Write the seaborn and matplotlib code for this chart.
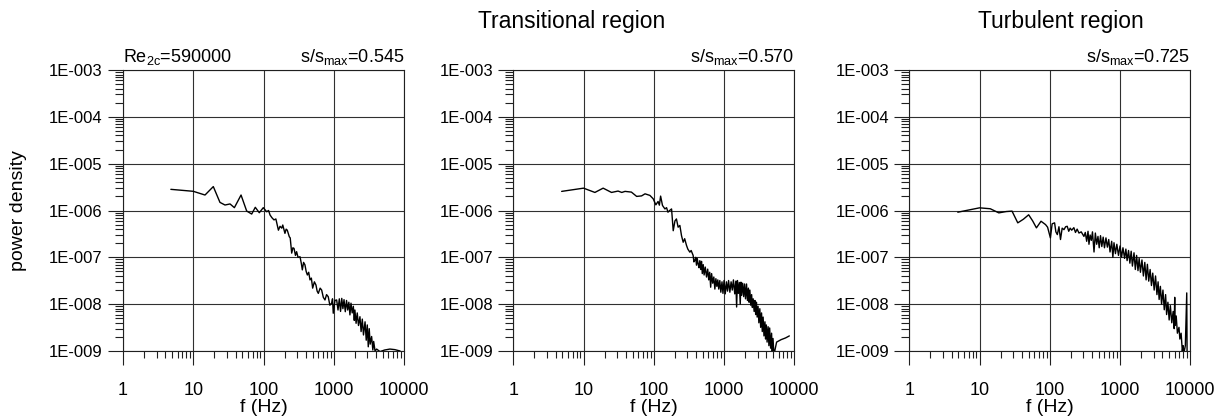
import numpy as np
import pandas as pd
import matplotlib
matplotlib.use("Agg")
import matplotlib.pyplot as plt
import matplotlib.ticker as mticker
import seaborn as sns

# ---------------- data ----------------
f1 = [4.8, 10, 14.7, 19.3, 24, 28.3, 33.4, 38.5, 47.9, 57.6, 67.9, 76.4, 87.1, 99.3, 111, 118, 124, 132,
      141, 150, 163, 172, 182, 188, 202, 210, 218, 233, 240, 252, 262, 272, 285, 296, 310, 331, 345, 357,
      372, 389, 405, 421, 440, 459, 480, 501, 530, 558, 580, 603, 640, 673, 710, 750, 790, 835, 880, 933,
      960, 984, 1040, 1100, 1150, 1200, 1250, 1300, 1350, 1400, 1460, 1520, 1580, 1640, 1700, 1760, 1830,
      1900, 1960, 2000, 2080, 2160, 2250, 2360, 2450, 2550, 2650, 2790, 2900, 3000, 3100, 3200, 3300,
      3460, 3600, 3700, 3870, 4080, 4550, 5300, 6300, 7400, 8800]
p1 = [2.83e-6, 2.57e-6, 2.14e-6, 3.24e-6, 1.49e-6, 1.31e-6, 1.38e-6, 1.15e-6, 2.14e-6, 9.75e-7, 8.4e-7,
      1.17e-6, 8.97e-7, 1.15e-6, 9.4e-7, 1.0e-6, 8.0e-7, 7.0e-7, 6.3e-7, 6.6e-7, 3.8e-7, 4.6e-7, 4.2e-7,
      4.9e-7, 3.25e-7, 4.0e-7, 3.8e-7, 2.75e-7, 2.6e-7, 1.23e-7, 1.6e-7, 1.55e-7, 1.1e-7, 1.32e-7, 1.0e-7,
      1.03e-7, 7.5e-8, 5.4e-8, 7.8e-8, 6.9e-8, 5.0e-8, 4.2e-8, 4.8e-8, 3.3e-8, 3.6e-8, 2.2e-8, 3.0e-8,
      2.57e-8, 1.9e-8, 1.7e-8, 2.2e-8, 2.0e-8, 1.4e-8, 1.23e-8, 1.6e-8, 1.44e-8, 9.5e-9, 1.05e-8, 1.3e-8,
      6.4e-9, 1.2e-8, 1.23e-8, 7.5e-9, 1.3e-8, 7.0e-9, 1.33e-8, 8.0e-9, 1.25e-8, 6.9e-9, 1.2e-8, 7.5e-9,
      1.1e-8, 5.9e-9, 1.05e-8, 6.5e-9, 9.0e-9, 4.5e-9, 7.5e-9, 3.9e-9, 6.5e-9, 3.5e-9, 5.4e-9, 2.6e-9,
      4.8e-9, 2.2e-9, 4.2e-9, 1.7e-9, 3.6e-9, 1.23e-9, 3.0e-9, 1.4e-9, 2.04e-9, 1.05e-9, 1.6e-9, 1.0e-9,
      1.1e-9, 0.97e-9, 1.05e-9, 1.1e-9, 1.07e-9, 1.0e-9]

f2 = [4.88, 10, 14.5, 19, 25, 31, 35, 39, 48, 57, 67, 75, 88, 98, 107, 115, 120, 125, 133, 144, 152, 159,
      168, 179, 189, 200, 210, 222, 235, 248, 262, 275, 292, 305, 326, 340, 363, 372, 384, 395, 405, 415,
      427, 440, 452, 465, 478, 490, 505, 520, 540, 563, 585, 605, 625, 645, 665, 690, 715, 740, 765, 790,
      815, 840, 870, 900, 935, 965, 1000, 1040, 1080, 1120, 1160, 1210, 1260, 1310, 1360, 1420, 1470,
      1510, 1550, 1600, 1650, 1700, 1740, 1780, 1840, 1900, 1960, 2020, 2090, 2150, 2220, 2270, 2330,
      2400, 2470, 2530, 2600, 2680, 2750, 2820, 2890, 2960, 3050, 3130, 3230, 3320, 3420, 3500, 3600,
      3700, 3820, 3900, 4000, 4100, 4240, 4350, 4460, 4600, 4750, 4850, 4980, 5100, 5270, 5600, 6500,
      7500, 8500]
p2 = [2.56e-6, 3.0e-6, 2.43e-6, 3.0e-6, 2.43e-6, 2.6e-6, 2.43e-6, 2.56e-6, 2.47e-6, 2.0e-6, 2.05e-6,
      2.27e-6, 2.1e-6, 1.78e-6, 1.32e-6, 1.56e-6, 1.3e-6, 2.03e-6, 1.28e-6, 1.08e-6, 1.15e-6, 9.2e-7,
      1.0e-6, 1.08e-6, 3.7e-7, 6.0e-7, 6.6e-7, 4.4e-7, 4.8e-7, 2.9e-7, 2.1e-7, 2.5e-7, 1.8e-7, 1.5e-7,
      1.29e-7, 1.4e-7, 1.1e-7, 8.0e-8, 8.6e-8, 1.0e-7, 6.8e-8, 9.5e-8, 7.3e-8, 6.0e-8, 8.5e-8, 5.5e-8,
      8.2e-8, 4.5e-8, 7.0e-8, 4.2e-8, 6.2e-8, 3.8e-8, 5.6e-8, 3.3e-8, 4.8e-8, 2.3e-8, 4.5e-8, 2.8e-8,
      3.8e-8, 2.1e-8, 3.5e-8, 2.4e-8, 3.3e-8, 2.1e-8, 3.2e-8, 1.8e-8, 3.0e-8, 1.7e-8, 3.2e-8, 1.66e-8,
      3.0e-8, 1.9e-8, 3.2e-8, 1.8e-8, 3.0e-8, 2.0e-8, 3.3e-8, 1.66e-8, 3.1e-8, 8.7e-9, 3.2e-8, 1.7e-8,
      2.9e-8, 1.0e-8, 2.95e-8, 1.55e-8, 2.8e-8, 1.45e-8, 2.7e-8, 1.3e-8, 2.7e-8, 1.2e-8, 2.2e-8, 1.1e-8,
      2.0e-8, 9.5e-9, 1.6e-8, 8.5e-9, 1.3e-8, 7.0e-9, 1.2e-8, 6.0e-9, 1.1e-8, 5.3e-9, 9.0e-9, 4.0e-9,
      8.0e-9, 3.2e-9, 6.5e-9, 2.6e-9, 5.3e-9, 2.1e-9, 4.2e-9, 1.8e-9, 3.6e-9, 1.55e-9, 3.3e-9, 1.3e-9,
      3.1e-9, 1.15e-9, 2.4e-9, 1.0e-9, 1.85e-9, 0.95e-9, 1.0e-9, 1.55e-9, 1.75e-9, 1.9e-9, 2.1e-9]

f3 = [4.9, 10, 14.2, 18.8, 24, 29, 35, 42, 50, 57, 64.5, 75, 87, 93, 102, 108, 117, 122, 128, 135, 142,
      150, 159, 168, 177, 186, 195, 205, 220, 232, 245, 260, 280, 306, 320, 335, 350, 361, 375, 390, 405,
      426, 445, 465, 485, 505, 527, 550, 575, 600, 630, 660, 690, 720, 760, 790, 820, 860, 900, 950, 1000,
      1050, 1100, 1160, 1210, 1260, 1320, 1380, 1440, 1500, 1580, 1650, 1720, 1800, 1870, 1950, 2050,
      2150, 2250, 2350, 2450, 2560, 2680, 2800, 2920, 3060, 3200, 3350, 3480, 3600, 3750, 3900, 4080,
      4260, 4450, 4600, 4800, 5000, 5200, 5450, 5700, 5900, 6000, 6050, 6300, 6550, 6900, 7100, 7400,
      7700, 7900, 8100, 8500, 8900, 9000]
p3 = [9.2e-7, 1.14e-6, 1.09e-6, 8.9e-7, 9.5e-7, 9.7e-7, 5.45e-7, 6.5e-7, 8.1e-7, 6.0e-7, 4.26e-7, 5.9e-7,
      5.0e-7, 4.4e-7, 2.6e-7, 5.2e-7, 5.45e-7, 3.5e-7, 3.06e-7, 4.5e-7, 2.4e-7, 4.2e-7, 3.9e-7, 4.5e-7,
      4.6e-7, 3.6e-7, 4.2e-7, 3.8e-7, 4.3e-7, 3.4e-7, 4.0e-7, 3.3e-7, 3.5e-7, 2.8e-7, 3.4e-7, 2.2e-7,
      3.6e-7, 1.9e-7, 3.0e-7, 2.3e-7, 3.5e-7, 1.3e-7, 3.3e-7, 1.9e-7, 2.8e-7, 1.6e-7, 2.9e-7, 1.7e-7,
      2.7e-7, 1.6e-7, 2.6e-7, 1.65e-7, 2.4e-7, 1.3e-7, 2.2e-7, 1.0e-7, 2.05e-7, 1.2e-7, 1.9e-7, 1.1e-7,
      1.75e-7, 1.0e-7, 1.6e-7, 9.5e-8, 1.5e-7, 8.5e-8, 1.4e-7, 7.5e-8, 1.35e-7, 6.5e-8, 1.25e-7, 5.5e-8,
      1.1e-7, 5.2e-8, 9.5e-8, 4.8e-8, 8.8e-8, 4.0e-8, 7.8e-8, 3.3e-8, 7.1e-8, 3.1e-8, 5.5e-8, 2.5e-8,
      4.6e-8, 2.0e-8, 4.0e-8, 1.6e-8, 3.0e-8, 1.26e-8, 2.4e-8, 1.0e-8, 2.0e-8, 7.6e-9, 1.6e-8, 6.0e-9,
      1.1e-8, 4.6e-9, 9.3e-9, 4.0e-9, 7.0e-9, 3.0e-9, 1.4e-8, 3.5e-9, 5.6e-9, 2.4e-9, 3.2e-9, 1.8e-9,
      2.4e-9, 1.0e-9, 1.3e-9, 0.9e-9, 1.3e-9, 1.74e-8, 0.9e-9]

positions = ["s/s$_{\\mathrm{max}}$=0.545", "s/s$_{\\mathrm{max}}$=0.570", "s/s$_{\\mathrm{max}}$=0.725"]
reynolds = "Re$_{\\mathrm{2c}}$=590000"
region_titles = ["Transitional region", "Turbulent region"]
x_ticks = [1, 10, 100, 1000, 10000]
y_ticks = [1e-9, 1e-8, 1e-7, 1e-6, 1e-5, 1e-4, 1e-3]

# ---------------- style ----------------
sns.set_theme(style="white")
plt.rcParams["font.family"] = ["Liberation Sans", "DejaVu Sans"]
plt.rcParams["mathtext.fontset"] = "custom"
plt.rcParams["mathtext.rm"] = "Liberation Sans"
plt.rcParams["mathtext.it"] = "Liberation Sans"
plt.rcParams["mathtext.default"] = "regular"
plt.rcParams["text.color"] = "black"
plt.rcParams["axes.labelcolor"] = "black"
plt.rcParams["xtick.color"] = "black"
plt.rcParams["ytick.color"] = "black"

W, H = 1224, 419
fig = plt.figure(figsize=(W / 100, H / 100), dpi=100)

lefts = [123, 513.3, 909.3]
ax_w = 281
top_px, bot_px = 70, 351

datasets = [(f1, p1), (f2, p2), (f3, p3)]

def yfmt(v, pos):
    e = int(round(np.log10(v)))
    return "1E-%03d" % abs(e)

for i, (fx, py) in enumerate(datasets):
    ax = fig.add_axes([lefts[i] / W, 1 - bot_px / H, ax_w / W, (bot_px - top_px) / H])
    df = pd.DataFrame({"f": fx, "p": py})
    sns.lineplot(data=df, x="f", y="p", ax=ax, color="black", linewidth=1.0,
                 estimator=None, sort=False)
    ax.set_xscale("log")
    ax.set_yscale("log")
    ax.set_xlim(1, 10000)
    ax.set_ylim(1e-9, 1e-3)
    ax.xaxis.set_major_locator(mticker.FixedLocator(x_ticks))
    ax.xaxis.set_major_formatter(mticker.FixedFormatter([str(t) for t in x_ticks]))
    ax.yaxis.set_major_locator(mticker.FixedLocator(y_ticks))
    ax.yaxis.set_major_formatter(mticker.FuncFormatter(yfmt))
    ax.xaxis.set_minor_locator(mticker.LogLocator(base=10, subs=np.arange(2, 10), numticks=20))
    ax.yaxis.set_minor_locator(mticker.LogLocator(base=10, subs=np.arange(2, 10), numticks=20))
    ax.xaxis.set_minor_formatter(mticker.NullFormatter())
    ax.yaxis.set_minor_formatter(mticker.NullFormatter())
    ax.grid(True, which="major", color="#303030", linewidth=0.8)
    ax.grid(False, which="minor")
    for s in ax.spines.values():
        s.set_color("#202020")
        s.set_linewidth(0.8)
    ax.tick_params(axis="x", which="major", direction="out", length=10, width=0.8,
                   color="#202020", labelsize=13, pad=12, bottom=True)
    ax.tick_params(axis="x", which="minor", direction="out", length=5, width=0.8,
                   color="#202020", bottom=True)
    ax.tick_params(axis="y", which="major", direction="out", length=10.5, width=0.8,
                   color="#202020", labelsize=12, pad=4, left=True)
    ax.tick_params(axis="y", which="minor", direction="out", length=5.5, width=0.8,
                   color="#202020", left=True)
    ax.set_xlabel("f (Hz)", fontsize=14, labelpad=0)
    ax.set_ylabel("")
    ax.text(1.0, 1.01, positions[i], transform=ax.transAxes, ha="right", va="bottom",
            fontsize=13)
    if i == 0:
        ax.text(0.0, 1.01, reynolds, transform=ax.transAxes, ha="left", va="bottom",
                fontsize=13)

fig.text(18.5 / W, 1 - 210.5 / H, "power density", rotation=90, ha="center", va="center",
         fontsize=14)
fig.text(572 / W, 1 - 28.3 / H, region_titles[0], ha="center", va="baseline", fontsize=16.5)
fig.text(1061 / W, 1 - 28.3 / H, region_titles[1], ha="center", va="baseline", fontsize=16.5)

fig.savefig("out.png", dpi=100)
